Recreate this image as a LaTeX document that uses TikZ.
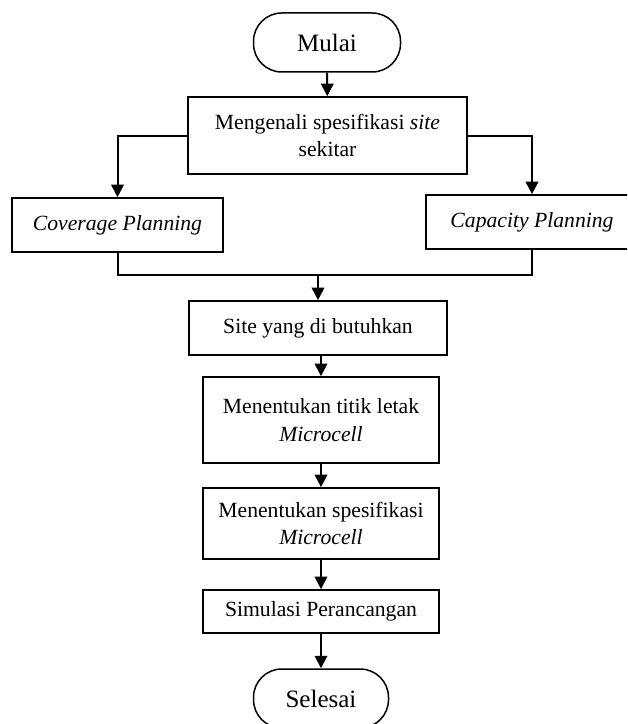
\documentclass[tikz,border=0pt]{standalone}
\usepackage{fontspec}
\setmainfont{Liberation Serif}
\usetikzlibrary{arrows.meta}

\begin{document}
\begin{tikzpicture}[x=0.6pt, y=-0.6pt, >={Triangle[length=7.5pt, width=7.5pt]},
    terminal/.style={draw, line width=0.9pt, rounded corners=17pt, minimum width=#1, minimum height=35.4pt, font=\fontsize{15}{18}\selectfont},
    kotak/.style={draw, line width=1pt, align=center, inner sep=2pt, font=\fontsize{13}{16.5}\selectfont},
    alur/.style={line width=1.2pt}]
    % 1. batas gambar
    \useasboundingbox (0,0) rectangle (627,724);
    \begin{scope}
    \clip (0,0) rectangle (627,724);

    % 2. simbol mulai dan proses awal
    \node[terminal=88.2pt] (mulai) at (327,42.5) {Mulai};
    \node[kotak, minimum width=167.4pt, minimum height=46.2pt] (kenali) at (327.5,135.5) {Mengenali spesifikasi \textit{site}\\sekitar};

    % 3. dua cabang perencanaan
    \node[kotak, minimum width=126.6pt, minimum height=32.4pt] (coverage) at (117.5,225) {\textit{Coverage Planning}};
    \node[kotak, minimum width=127.2pt, minimum height=32.4pt] (capacity) at (532,222) {\textit{Capacity Planning}};

    % 4. proses lanjutan
    \node[kotak, minimum width=154.8pt, minimum height=32.4pt] (site) at (318,328) {Site yang di butuhkan};
    \node[kotak, minimum width=141.6pt, minimum height=51.6pt] (titik) at (321,420) {Menentukan titik letak\\\textit{Microcell}};
    \node[kotak, minimum width=141.6pt, minimum height=42.6pt] (spek) at (321,523.5) {Menentukan spesifikasi\\\textit{Microcell}};
    \node[kotak, minimum width=141.6pt, minimum height=25.8pt] (simulasi) at (321,611.5) {Simulasi Perancangan};
    \node[terminal=81pt] (selesai) at (321,698.5) {Selesai};

    % titik pertemuan cabang
    \coordinate (gabung) at (318,275);

    % 5. garis alur
    \draw[alur, ->] (mulai) -- (kenali);
    \draw[alur, ->] (kenali.west) -| (coverage.north);
    \draw[alur, ->] (kenali.east) -| (capacity.north);
    \draw[alur] (coverage.south) |- (gabung) -| (capacity.south);
    \draw[alur, ->] (gabung) -- (site);
    \draw[alur, ->] (site.south -| titik.north) -- (titik);
    \draw[alur, ->] (titik) -- (spek);
    \draw[alur, ->] (spek) -- (simulasi);
    \draw[alur, ->] (simulasi) -- (selesai);
    \end{scope}
\end{tikzpicture}
\end{document}
